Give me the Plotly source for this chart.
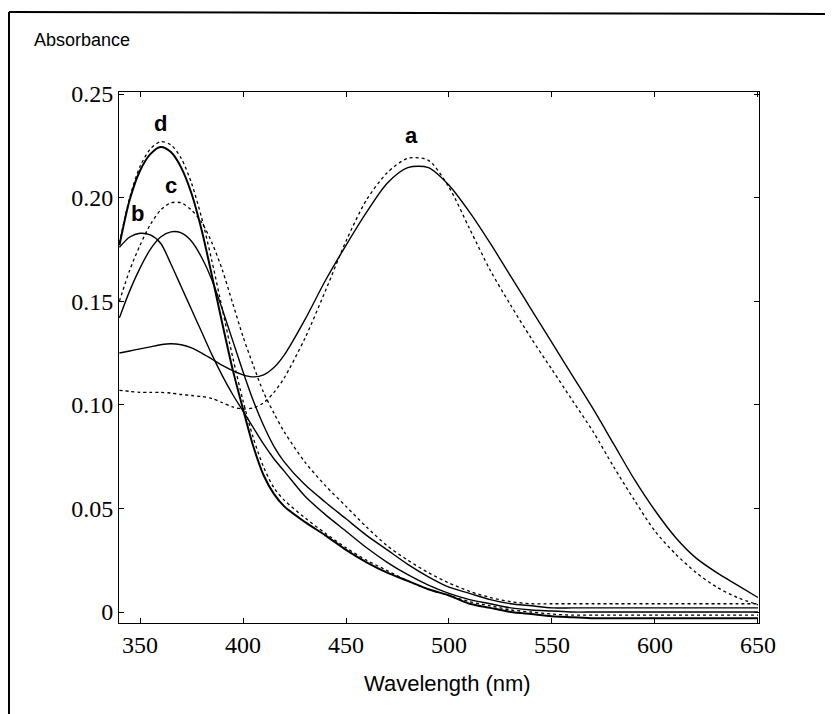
import plotly.graph_objects as go

# wavelength grid (nm)
wavelength = [340, 345, 350, 355, 360, 365, 370, 375, 380, 385, 390, 395, 400, 405, 410,
              415, 420, 430, 440, 450, 460, 470, 480, 490, 500, 510, 520, 530, 540, 550,
              560, 570, 580, 590, 600, 610, 620, 630, 640, 650]

# spectra
a_solid = [0.125, 0.126, 0.127, 0.128, 0.129, 0.1295, 0.129, 0.1275, 0.125, 0.122, 0.119, 0.1165, 0.1145, 0.1135, 0.1145,
           0.118, 0.124, 0.141, 0.160, 0.177, 0.193, 0.207, 0.2145, 0.2145, 0.206, 0.193, 0.178, 0.162, 0.146, 0.130,
           0.114, 0.098, 0.081, 0.064, 0.049, 0.036, 0.026, 0.019, 0.013, 0.007]
a_dash = [0.107, 0.1065, 0.106, 0.106, 0.106, 0.1057, 0.105, 0.1045, 0.104, 0.103, 0.101, 0.099, 0.098, 0.0985, 0.101,
          0.106, 0.113, 0.132, 0.155, 0.179, 0.199, 0.212, 0.219, 0.218, 0.205, 0.185, 0.165, 0.148, 0.132, 0.117,
          0.102, 0.087, 0.070, 0.054, 0.039, 0.028, 0.019, 0.012, 0.007, 0.0035]
b_solid = [0.176, 0.181, 0.1828, 0.182, 0.178, 0.168, 0.157, 0.146, 0.135, 0.124, 0.114, 0.105, 0.097, 0.089, 0.081,
           0.074, 0.068, 0.056, 0.047, 0.039, 0.031, 0.024, 0.018, 0.013, 0.009, 0.006, 0.004, 0.002, 0.001, 0.0005,
           0.0, 0.0, 0.0, 0.0, 0.0, 0.0, 0.0, 0.0, 0.0, 0.0]
c_solid = [0.142, 0.155, 0.166, 0.175, 0.181, 0.1835, 0.183, 0.179, 0.171, 0.160, 0.146, 0.131, 0.116, 0.102, 0.090,
           0.080, 0.0725, 0.0615, 0.053, 0.045, 0.037, 0.030, 0.023, 0.017, 0.012, 0.009, 0.006, 0.004, 0.003, 0.002,
           0.002, 0.002, 0.002, 0.002, 0.002, 0.002, 0.002, 0.002, 0.002, 0.002]
c_dash = [0.150, 0.165, 0.177, 0.187, 0.194, 0.1975, 0.1975, 0.194, 0.188, 0.178, 0.165, 0.149, 0.133, 0.119, 0.106,
          0.096, 0.087, 0.0725, 0.061, 0.051, 0.041, 0.032, 0.025, 0.019, 0.014, 0.010, 0.007, 0.005, 0.004, 0.004,
          0.004, 0.004, 0.004, 0.004, 0.004, 0.004, 0.004, 0.004, 0.004, 0.004]
d_solid = [0.177, 0.199, 0.213, 0.221, 0.2245, 0.222, 0.2145, 0.202, 0.184, 0.162, 0.139, 0.117, 0.098, 0.080, 0.066,
           0.057, 0.051, 0.0435, 0.037, 0.030, 0.024, 0.019, 0.015, 0.011, 0.008, 0.004, 0.002, 0.0, -0.001, -0.002,
           -0.0025, -0.003, -0.003, -0.003, -0.003, -0.003, -0.003, -0.003, -0.003, -0.003]
d_dash = [0.178, 0.200, 0.215, 0.2235, 0.227, 0.2255, 0.219, 0.207, 0.190, 0.169, 0.146, 0.123, 0.102, 0.084, 0.070,
          0.060, 0.054, 0.0455, 0.038, 0.031, 0.025, 0.020, 0.015, 0.011, 0.008, 0.005, 0.003, 0.001, 0.0, -0.001,
          -0.0015, -0.0015, -0.0015, -0.0015, -0.0015, -0.0015, -0.0015, -0.0015, -0.0015, -0.0015]

curve_labels = ["a", "b", "c", "d"]
label_x = [482, 349, 365, 360]
label_y = [0.230, 0.1925, 0.206, 0.236]

x_ticks = [350, 400, 450, 500, 550, 600, 650]
y_ticks = [0, 0.05, 0.10, 0.15, 0.20, 0.25]
y_ticktext = ["0", "0.05", "0.10", "0.15", "0.20", "0.25"]

series = [
    (a_solid, "solid", 1.4), (a_dash, "dash", 1.3),
    (b_solid, "solid", 1.4),
    (c_solid, "solid", 1.4), (c_dash, "dash", 1.3),
    (d_solid, "solid", 2.0), (d_dash, "dash", 1.3),
]

fig = go.Figure()
for ys, style, w in series:
    fig.add_trace(go.Scatter(
        x=wavelength, y=ys, mode="lines",
        line=dict(color="black", width=w, shape="spline", smoothing=0.8,
                  dash="solid" if style == "solid" else "3px,3px"),
        showlegend=False, hoverinfo="skip",
    ))

for t, lx, ly in zip(curve_labels, label_x, label_y):
    fig.add_annotation(x=lx, y=ly, text="<b>" + t + "</b>", showarrow=False,
                       font=dict(family="Liberation Sans", size=22, color="black"))

# axis captions
fig.add_annotation(xref="paper", yref="paper", x=-0.136, y=1.098, xanchor="left", yanchor="middle",
                   text="Absorbance", showarrow=False,
                   font=dict(family="Liberation Sans", size=18, color="black"))
fig.add_annotation(xref="paper", yref="paper", x=0.514, y=-0.113, xanchor="center", yanchor="middle",
                   text="Wavelength (nm)", showarrow=False,
                   font=dict(family="Liberation Sans", size=22, color="black"))

# outer frame (scanned border)
fig.add_shape(type="line", xref="paper", yref="paper", x0=-0.1719, y0=1.1507, x1=1.1156, y1=1.147,
              line=dict(color="black", width=2))
fig.add_shape(type="line", xref="paper", yref="paper", x0=-0.1719, y0=1.1507, x1=-0.1719, y1=-0.1714,
              line=dict(color="black", width=2))

# page body adds an 8px offset, so the figure is drawn 8px smaller
fig.update_layout(
    width=825, height=706,
    margin=dict(l=111, r=74, t=84, b=91),
    plot_bgcolor="white", paper_bgcolor="white",
    xaxis=dict(
        range=[339.8, 650.5], tickvals=x_ticks,
        showgrid=False, zeroline=False,
        showline=True, linecolor="black", linewidth=1, mirror="ticks",
        ticks="inside", ticklen=5, tickcolor="black",
        tickfont=dict(family="Liberation Serif", size=24, color="black"),
    ),
    yaxis=dict(
        range=[-0.0053, 0.2510], tickvals=y_ticks, ticktext=y_ticktext,
        showgrid=False, zeroline=False,
        showline=True, linecolor="black", linewidth=1, mirror="ticks",
        ticks="inside", ticklen=5, tickcolor="black",
        tickfont=dict(family="Liberation Serif", size=24, color="black"),
    ),
)

fig.write_html("out.html")
